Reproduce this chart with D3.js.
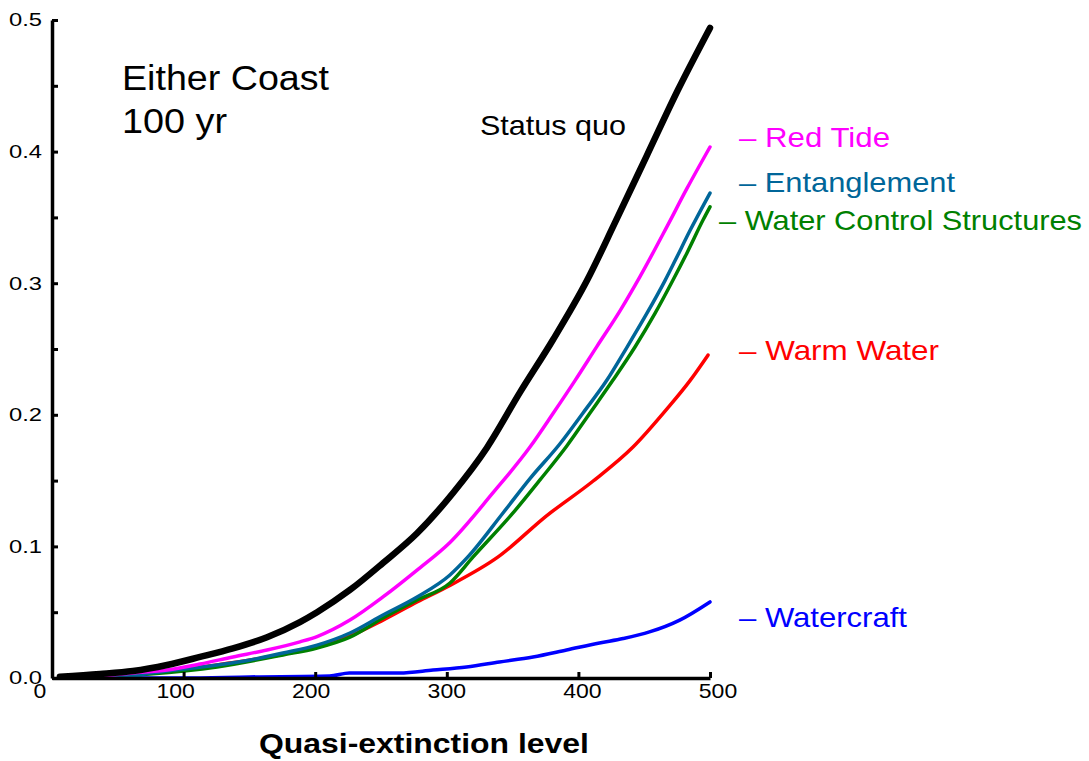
<!DOCTYPE html>
<html>
<head>
<meta charset="utf-8">
<script src="https://cdn.jsdelivr.net/npm/d3@7"></script>
<style>
  html, body { margin: 0; padding: 0; background: #fff; }
  svg { display: block; font-family: "Liberation Sans", Arial, sans-serif; }
</style>
</head>
<body>
<svg id="chart" width="1089" height="761"></svg>
<script>
// ---- data ----
const xTicks = [0, 100, 200, 300, 400, 500];
const xTickLabels = ["0", "100", "200", "300", "400", "500"];
const yTicks = [0, 0.1, 0.2, 0.3, 0.4, 0.5];
const yTickLabels = ["0.0", "0.1", "0.2", "0.3", "0.4", "0.5"];
const yMinorTicks = [0.05, 0.15, 0.25, 0.35, 0.45];

const statusQuo = [[6,0.001],[36.5,0.003],[61.5,0.0053],[87.4,0.0099],[112.5,0.016],[137.5,0.0225],[163.4,0.031],[188.4,0.0425],[201.4,0.05],[226.4,0.0669],[251.5,0.0874],[277.4,0.11],[304.7,0.1406],[330.5,0.175],[355.6,0.217],[380.7,0.257],[406.5,0.302],[427.8,0.346],[452,0.397],[475.7,0.447],[500,0.494]];
const redTide = [[6,0.0005],[36.5,0.0015],[61.5,0.0038],[87.4,0.0061],[112.5,0.0106],[137.5,0.016],[163.4,0.0213],[188.4,0.0275],[201.4,0.0315],[226.4,0.044],[251.5,0.0616],[277.4,0.082],[302.4,0.103],[335,0.1406],[363.2,0.1755],[380.7,0.201],[397.4,0.226],[414.1,0.252],[431.6,0.279],[446.8,0.305],[467.3,0.343],[482.5,0.372],[500,0.4035]];
const entanglement = [[6,0.0005],[36.5,0.0008],[61.5,0.0015],[74.5,0.0038],[87.4,0.0053],[125.4,0.0099],[150.5,0.0137],[175.5,0.019],[201.4,0.025],[226.4,0.0342],[251.5,0.0479],[277.4,0.0616],[302.4,0.0783],[316,0.092],[342.7,0.1254],[363.2,0.1515],[386,0.178],[403.5,0.2014],[421.7,0.2264],[437,0.2515],[452,0.277],[465.8,0.302],[473.4,0.317],[484.8,0.34],[500,0.3685]];
const waterControl = [[6,0.0005],[36.5,0.0008],[74.5,0.003],[125.4,0.0084],[175.5,0.0175],[201.4,0.0228],[226.4,0.031],[251.5,0.0456],[277.4,0.0593],[302.4,0.0722],[320,0.092],[350.3,0.1254],[370.8,0.1505],[391.3,0.1765],[408.8,0.2014],[426.3,0.2264],[443,0.2515],[458.2,0.277],[471.9,0.3024],[482.5,0.323],[494.7,0.348],[500,0.358]];
const warmWater = [[6,0.0005],[36.5,0.0012],[74.5,0.0038],[125.4,0.0099],[175.5,0.018],[201.4,0.0236],[226.4,0.0319],[251.5,0.044],[277.4,0.0578],[302.4,0.0704],[339,0.092],[376,0.1234],[411,0.1495],[441.5,0.1755],[467.3,0.2045],[484.8,0.226],[498.5,0.2454]];
const watercraft = [[6,0],[100,0],[150,0.0008],[211,0.0015],[226,0.0038],[264,0.0038],[289.5,0.006],[315,0.0084],[340,0.0122],[365.5,0.016],[391,0.0213],[416,0.0266],[434,0.03],[454,0.035],[477,0.044],[500,0.0578]];

const seriesNames = ["Status quo", "Red Tide", "Entanglement", "Water Control Structures", "Warm Water", "Watercraft"];
const seriesData = [statusQuo, redTide, entanglement, waterControl, warmWater, watercraft];
const seriesColors = ["#000000", "#ff00ff", "#006699", "#008000", "#ff0000", "#0000ff"];
const seriesWidths = [6.5, 3.5, 3.5, 3.5, 3.5, 3.5];

// ---- layout ----
const svg = d3.select("#chart");
const x = d3.scaleLinear().domain([0, 500]).range([52, 710]);
const xLab = d3.scaleLinear().domain([0, 500]).range([40, 718]);
const y = d3.scaleLinear().domain([0, 0.5]).range([678, 20]);

const line = d3.line().curve(d3.curveMonotoneX).x(d => x(d[0])).y(d => y(d[1]));
const order = [5, 4, 3, 2, 1, 0];
svg.append("g").selectAll("path").data(order).join("path")
  .attr("d", i => line(seriesData[i]))
  .attr("fill", "none")
  .attr("stroke", i => seriesColors[i])
  .attr("stroke-width", i => seriesWidths[i])
  .attr("stroke-linejoin", "round")
  .attr("stroke-linecap", "round");

// y axis
const yAxis = svg.append("g").attr("transform", `translate(${x(0)},0)`)
  .call(d3.axisLeft(y).tickValues(yTicks.concat(yMinorTicks)).tickSize(-6).tickSizeOuter(0).tickFormat(""));
yAxis.select(".domain").attr("stroke", "#000").attr("stroke-width", 3.5);
yAxis.selectAll(".tick line").attr("stroke", "#000").attr("stroke-width", 3);

svg.append("g").selectAll("text").data(yTicks).join("text")
  .attr("x", 42).attr("y", d => y(d)).attr("dy", "0.36em")
  .attr("text-anchor", "end").attr("font-size", 18).attr("fill", "#000")
  .attr("textLength", 33).attr("lengthAdjust", "spacingAndGlyphs")
  .text((d, i) => yTickLabels[i]);

// x axis
const xAxis = svg.append("g").attr("transform", `translate(0,${y(0)})`)
  .call(d3.axisBottom(x).tickValues(xTicks.slice(1)).tickSize(-6).tickSizeOuter(0).tickFormat(""));
xAxis.select(".domain").attr("stroke", "#000").attr("stroke-width", 3.5);
xAxis.selectAll(".tick line").attr("stroke", "#000").attr("stroke-width", 3);

svg.append("g").selectAll("text").data(xTicks).join("text")
  .attr("x", d => xLab(d)).attr("y", 698)
  .attr("text-anchor", "middle").attr("font-size", 21).attr("fill", "#000")
  .attr("textLength", (d, i) => xTickLabels[i].length * 12.8).attr("lengthAdjust", "spacingAndGlyphs")
  .text((d, i) => xTickLabels[i]);

svg.append("text").attr("x", 424).attr("y", 753).attr("text-anchor", "middle")
  .attr("font-size", 27).attr("font-weight", "bold")
  .attr("textLength", 330).attr("lengthAdjust", "spacingAndGlyphs")
  .text("Quasi-extinction level");

// titles
svg.append("text").attr("x", 122).attr("y", 90).attr("font-size", 35)
  .attr("textLength", 207).attr("lengthAdjust", "spacingAndGlyphs").text("Either Coast");
svg.append("text").attr("x", 122).attr("y", 133).attr("font-size", 35)
  .attr("textLength", 105).attr("lengthAdjust", "spacingAndGlyphs").text("100 yr");
svg.append("text").attr("x", 480).attr("y", 135).attr("font-size", 28)
  .attr("textLength", 146).attr("lengthAdjust", "spacingAndGlyphs").text("Status quo");

// series labels
const labelX = [739, 739, 719, 739, 739];
const labelY = [147, 192, 230, 360, 627];
const labelW = [151, 216, 363, 200, 168];
svg.append("g").selectAll("text").data([1, 2, 3, 4, 5]).join("text")
  .attr("x", (d, i) => labelX[i]).attr("y", (d, i) => labelY[i])
  .attr("font-size", 28).attr("fill", d => seriesColors[d])
  .attr("textLength", (d, i) => labelW[i]).attr("lengthAdjust", "spacingAndGlyphs")
  .text(d => "\u2013 " + seriesNames[d]);
</script>
</body>
</html>
